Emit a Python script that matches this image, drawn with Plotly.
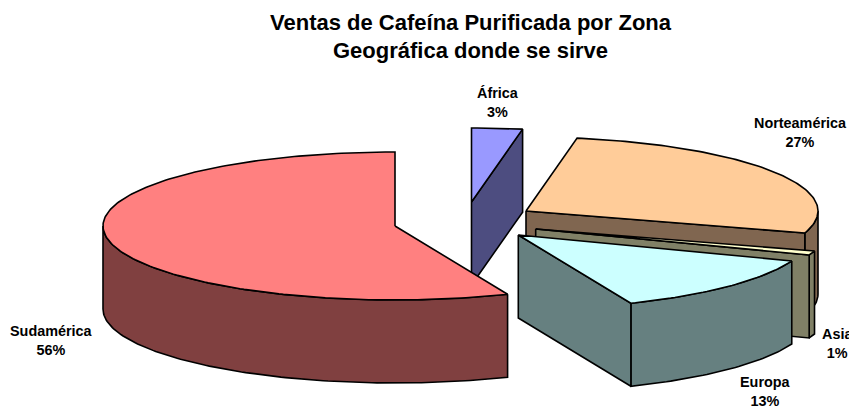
import numpy as np
import plotly.graph_objects as go

# Data, clockwise from 12 o'clock
categories = ["África", "Norteamérica", "Asia", "Europa", "Sudamérica"]
values = [2.8, 27.0, 0.9, 13.0, 56.3]

# Styles
top_colors = ["#9999FF", "#FFCC99", "#FFFFCC", "#CCFFFF", "#FF8080"]
wall_colors = ["#4D4D80", "#806650", "#808066", "#668080", "#804040"]

# Pie projection
PIE_CX, PIE_CY = 470.0, 225.0
RX, RY, DEPTH = 292.0, 74.0, 83.0
explode_dx = [1.5, 56.0, 65.7, 48.3, -75.0]
explode_dy = [-23.0, -14.0, 4.0, 10.0, 1.0]
# Drawing order, back to front
draw_order = [1, 2, 3, 0, 4]

label_x = [497.5, 800.0, 837.5, 765.0, 51.0]
label_y = [102.0, 132.0, 343.0, 391.0, 340.0]

total = sum(values)
ends = np.cumsum(values) / total * 2 * np.pi
starts = np.concatenate([[0.0], ends[:-1]])


def rim(cx, cy, a0, a1, drop=0.0):
    t = np.linspace(a0, a1, max(int(abs(a1 - a0) * 60), 2))
    return cx + RX * np.sin(t), cy - RY * np.cos(t) + drop


fig = go.Figure()


def face(x, y, color, name):
    fig.add_trace(go.Scatter(
        x=list(x) + [x[0]], y=list(y) + [y[0]], mode="lines", fill="toself",
        fillcolor=color, line=dict(color="#000000", width=1.6),
        hoverinfo="skip", showlegend=False, name=name))


for i in draw_order:
    cx = PIE_CX + explode_dx[i]
    cy = PIE_CY + explode_dy[i]
    a0, a1 = starts[i], ends[i]
    # Outer wall: only the part of the rim that faces the viewer
    w0, w1 = max(a0, np.pi / 2), min(a1, 1.5 * np.pi)
    if w1 > w0:
        tx, ty = rim(cx, cy, w0, w1)
        bx, by = rim(cx, cy, w1, w0, DEPTH)
        face(np.r_[tx, bx], np.r_[ty, by], wall_colors[i], categories[i] + " wall")
    # Radial cut face at the clockwise end, visible if it looks to the viewer
    if a1 < np.pi:
        ex, ey = rim(cx, cy, a1, a1)
        ex, ey = ex[0], ey[0]
        face([cx, ex, ex, cx], [cy, ey, ey + DEPTH, cy + DEPTH], wall_colors[i], categories[i] + " cut")
    # Top
    tx, ty = rim(cx, cy, a0, a1)
    face(np.r_[cx, tx], np.r_[cy, ty], top_colors[i], categories[i] + " top")

annotations = [
    dict(x=x, y=y, xref="x", yref="y", showarrow=False,
         text=f"<b>{c}</b><br><b>{round(v)}%</b>", align="center",
         font=dict(family="Liberation Sans, Arial", size=14.4, color="#000000"))
    for c, v, x, y in zip(categories, values, label_x, label_y)
]

fig.update_layout(
    width=849, height=407, autosize=False,
    margin=dict(l=0, r=0, t=0, b=0),
    paper_bgcolor="#FFFFFF", plot_bgcolor="#FFFFFF",
    title=dict(text="<b>Ventas de Cafeína Purificada por Zona<br>Geográfica donde se sirve</b>",
               x=0.5542, xanchor="center", y=0.927, yanchor="bottom",
               font=dict(family="Liberation Sans, Arial", size=22, color="#000000")),
    xaxis=dict(range=[0, 849], visible=False, fixedrange=True),
    yaxis=dict(range=[407, 0], visible=False, fixedrange=True),
    annotations=annotations,
    showlegend=False,
)
fig.write_html("out.html", config={"displayModeBar": False},
               post_script="document.body.style.margin='0';document.body.style.overflow='hidden';")
